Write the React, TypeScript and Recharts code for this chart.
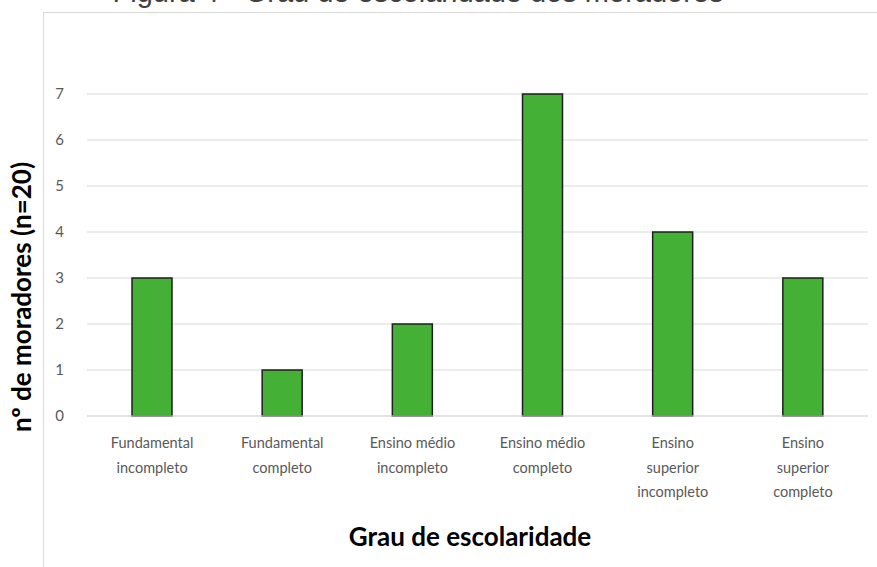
import { BarChart, Bar, XAxis, YAxis, CartesianGrid } from 'recharts'

const categories = [
  'Fundamental incompleto',
  'Fundamental completo',
  'Ensino médio incompleto',
  'Ensino médio completo',
  'Ensino superior incompleto',
  'Ensino superior completo',
]
const moradores = [3, 1, 2, 7, 4, 3]
const yTicks = [0, 1, 2, 3, 4, 5, 6, 7]

const chartTitle = 'Figura 4 - Grau de escolaridade dos moradores'
const xTitle = 'Grau de escolaridade'
const yTitle = 'nº de moradores (n=20)'

const data = categories.map((name, i) => ({ name, value: moradores[i] }))

const FONT = 'Lato, "Open Sans", sans-serif'

// quebra o rótulo em linhas de até 12 caracteres, como o Excel faz
function wrap(label: string, max = 12) {
  const lines: string[] = []
  let cur = ''
  for (const w of label.split(' ')) {
    const next = cur ? cur + ' ' + w : w
    if (next.length > max && cur) {
      lines.push(cur)
      cur = w
    } else {
      cur = next
    }
  }
  if (cur) lines.push(cur)
  return lines
}

function CategoryTick({ x, y, payload }: any) {
  const lines = wrap(payload.value)
  return (
    <text x={x} y={y} textAnchor="middle" fill="#595959" fontSize={14.5} fontFamily={FONT}>
      {lines.map((l, i) => (
        <tspan key={i} x={x} dy={i === 0 ? 30 : 24.5}>
          {l}
        </tspan>
      ))}
    </text>
  )
}

export default function App() {
  return (
    <div style={{ position: 'absolute', left: 0, top: 0, width: 877, height: 567, background: '#fff', overflow: 'hidden' }}>
      <div
        style={{
          position: 'absolute',
          left: 43,
          top: 12,
          width: 900,
          height: 600,
          border: '1px solid #d9d9d9',
          boxSizing: 'border-box',
        }}
      />
      <BarChart
        width={877}
        height={567}
        data={data}
        margin={{ top: 94, right: 9, bottom: 0, left: 0 }}
        style={{ position: 'absolute', left: 0, top: 0 }}
      >
        <CartesianGrid vertical={false} stroke="#d9d9d9" strokeWidth={1.2} />
        <XAxis
          dataKey="name"
          height={151}
          interval={0}
          tickLine={false}
          axisLine={{ stroke: '#d9d9d9', strokeWidth: 1.2 }}
          tick={<CategoryTick />}
          tickSize={0}
        />
        <YAxis
          width={87}
          domain={[0, 7]}
          ticks={yTicks}
          axisLine={false}
          tickLine={false}
          tickSize={0}
          tickMargin={23}
          tick={{ fill: '#595959', fontSize: 15, fontFamily: FONT }}
        />
        <Bar dataKey="value" fill="#44b035" stroke="#1f1f1f" strokeWidth={1.5} barSize={40} isAnimationActive={false} />
      </BarChart>
      <svg width={877} height={567} style={{ position: 'absolute', left: 0, top: 0, pointerEvents: 'none' }}>
        <text x={418} y={1.5} textAnchor="middle" fontSize={29} fill="#404040" fontFamily='"Liberation Sans", Arial, sans-serif'>
          {chartTitle}
        </text>
        <text x={470} y={546} textAnchor="middle" fontSize={26} fontWeight="bold" fill="#000" fontFamily={FONT}>
          {xTitle}
        </text>
        <text
          x={0}
          y={0}
          transform="translate(31, 297) rotate(-90)"
          textAnchor="middle"
          fontSize={26}
          fontWeight="bold"
          fill="#000"
          fontFamily={FONT}
        >
          {yTitle}
        </text>
      </svg>
    </div>
  )
}
